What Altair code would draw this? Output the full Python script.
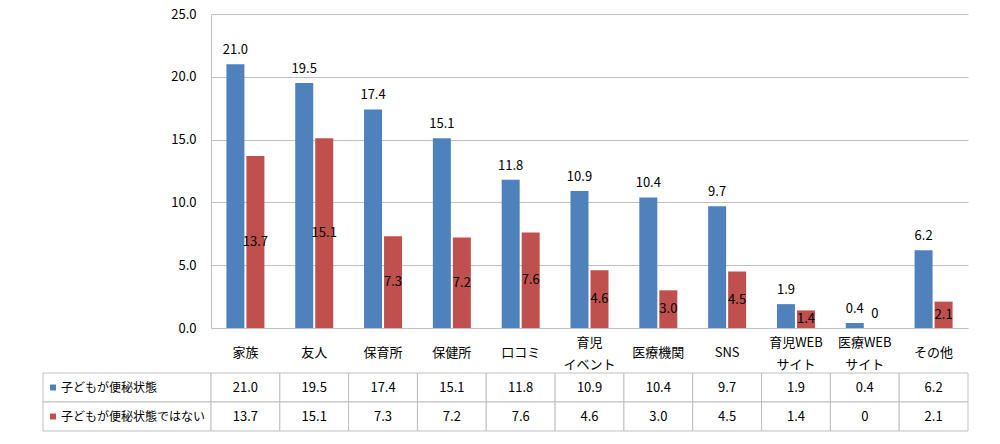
import altair as alt
import pandas as pd

categories = ["家族", "友人", "保育所", "保健所", "口コミ", "育児\nイベント", "医療機関",
              "SNS", "育児WEB\nサイト", "医療WEB\nサイト", "その他"]
series_names = ["子どもが便秘状態", "子どもが便秘状態ではない"]
constipated = [21.0, 19.5, 17.4, 15.1, 11.8, 10.9, 10.4, 9.7, 1.9, 0.4, 6.2]
not_constipated = [13.7, 15.1, 7.3, 7.2, 7.6, 4.6, 3.0, 4.5, 1.4, 0.0, 2.1]
y_ticks = [0, 5, 10, 15, 20, 25]
colors = ["#4F81BD", "#C0504D"]

GRID = "#BFBFBF"
FONT = "Noto Sans CJK JP"
H = 314

rows = []
for i, c in enumerate(categories):
    rows.append({"cat": c, "series": series_names[0], "v": constipated[i]})
    rows.append({"cat": c, "series": series_names[1], "v": not_constipated[i]})
df = pd.DataFrame(rows)
df_series = pd.DataFrame({"series": series_names})
df_cats = pd.DataFrame({"cat": categories})

color_enc = alt.Color("series:N", scale=alt.Scale(domain=series_names, range=colors), legend=None)

x_scale = alt.Scale(domain=categories, paddingInner=0, paddingOuter=0)
x_top = alt.X(
    "cat:N", sort=categories, scale=x_scale,
    axis=alt.Axis(title=None, labels=False, tickBand="extent", tickSize=50,
                  tickColor=GRID, domainColor=GRID, grid=False),
)
xoff = alt.XOffset("series:N", sort=series_names,
                   scale=alt.Scale(domain=series_names, paddingInner=0.1, paddingOuter=0.77))
y_scale = alt.Scale(domain=[0, 25], nice=False)
y_axis = alt.Axis(title=None, values=y_ticks, format=".1f", ticks=False, labelPadding=15,
                  domainColor=GRID, gridColor=GRID, labelFontSize=13, labelColor="#000")

base = alt.Chart(df).encode(x=x_top, xOffset=xoff).transform_calculate(
    lbl="datum.v == 0 ? '0' : format(datum.v, '.1f')", half="datum.v / 2"
)

bars = base.mark_bar().encode(
    y=alt.Y("v:Q", scale=y_scale, axis=y_axis),
    color=color_enc,
)
top_lbl = base.transform_filter(
    f"datum.series == '{series_names[0]}' || datum.v == 0"
).mark_text(dy=-14, baseline="middle", fontSize=13, color="#000").encode(
    y=alt.Y("v:Q", scale=y_scale, axis=y_axis), text="lbl:N"
)
mid_lbl = base.transform_filter(
    f"datum.series == '{series_names[1]}' && datum.v > 0"
).mark_text(baseline="middle", fontSize=13, color="#000").encode(
    y=alt.Y("half:Q", scale=y_scale, axis=y_axis), text="lbl:N"
)

# category row (header of the data table) under the x axis
cat_base = alt.Chart(df_cats).encode(
    x=alt.X("cat:N", sort=categories, scale=x_scale, axis=None)
).transform_calculate(
    l1="split(datum.cat, '\\n')[0]",
    l2="indexof(datum.cat, '\\n') >= 0 ? split(datum.cat, '\\n')[1] : ''",
)
cat_single = cat_base.transform_filter("indexof(datum.cat, '\\n') < 0").mark_text(
    baseline="middle", fontSize=13, color="#000").encode(y=alt.value(H + 25), text="l1:N")
cat_first = cat_base.transform_filter("indexof(datum.cat, '\\n') >= 0").mark_text(
    baseline="middle", fontSize=13, color="#000").encode(y=alt.value(H + 15), text="l1:N")
cat_second = cat_base.transform_filter("indexof(datum.cat, '\\n') >= 0").mark_text(
    baseline="middle", fontSize=13, color="#000").encode(y=alt.value(H + 37), text="l2:N")

top = alt.layer(bars, top_lbl, mid_lbl, cat_single, cat_first, cat_second).properties(
    width=757, height=H)

y_rows = alt.Y("series:N", sort=series_names, axis=None,
               scale=alt.Scale(domain=series_names, paddingInner=0, paddingOuter=0))

# legend column of the data table (drawn to the left of the table's plot area)
left_cells = alt.Chart(df_series).mark_rect(fill="white", stroke=GRID).encode(
    y=y_rows, x=alt.value(-168), x2=alt.value(0)
)
left_sq = alt.Chart(df_series).mark_square(size=36, opacity=1, filled=True).encode(
    y=y_rows, x=alt.value(-158), color=color_enc
)
left_txt = alt.Chart(df_series).mark_text(align="left", baseline="middle", fontSize=12,
                                          color="#000").encode(
    y=y_rows, x=alt.value(-150), text="series:N"
)

x_tab = alt.X("cat:N", sort=categories, axis=None, scale=x_scale)
grid_base = alt.Chart(df).encode(x=x_tab, y=y_rows).transform_calculate(
    lbl="datum.v == 0 ? '0' : format(datum.v, '.1f')"
)
grid_cells = grid_base.mark_rect(fill="white", stroke=GRID)
grid_txt = grid_base.mark_text(baseline="middle", fontSize=13, color="#000").encode(text="lbl:N")
bottom = alt.layer(left_cells, left_sq, left_txt, grid_cells, grid_txt).properties(
    width=757, height=58)

chart = alt.vconcat(top, bottom, spacing=0).properties(
    padding={"left": 34, "top": 0, "right": 0, "bottom": 0}
).configure(font=FONT).configure_view(stroke=None)

chart.save("out.html", embed_options={"renderer": "svg", "actions": False})
